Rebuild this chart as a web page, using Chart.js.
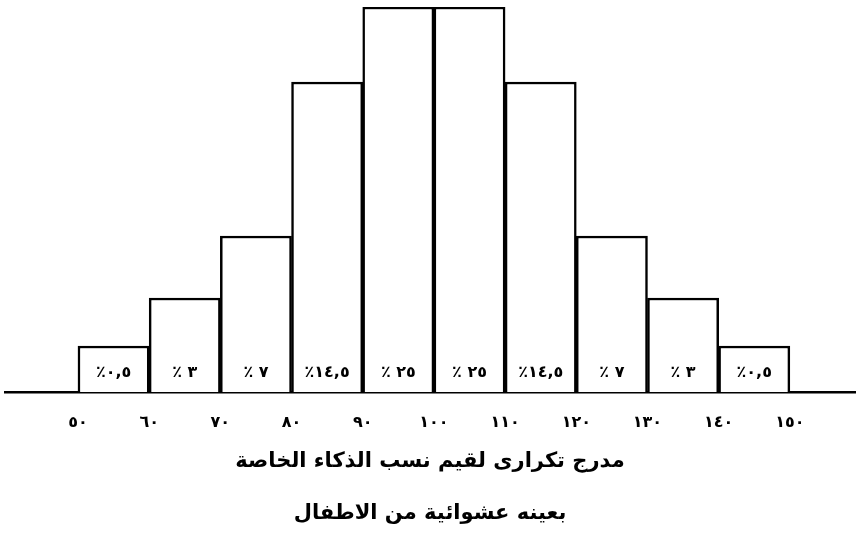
<!DOCTYPE html>
<html>
<head>
<meta charset="utf-8">
<script src="https://cdn.jsdelivr.net/npm/chart.js@4/dist/chart.umd.min.js"></script>
<style>
  html, body { margin: 0; padding: 0; background: #ffffff; }
  #wrap { width: 868px; height: 543px; position: relative; }
</style>
</head>
<body>
<div id="wrap"><canvas id="c" width="868" height="543"></canvas></div>
<script>
// IQ class intervals (lower edges), bar heights as drawn, and percentage labels
const binStarts = [50, 60, 70, 80, 90, 100, 110, 120, 130, 140];
const binWidth = 10;
const barHeights = [46, 94, 156, 310, 385, 385, 310, 156, 94, 46];
const percentLabels = ['٪٠,٥', '٪ ٣', '٪ ٧', '٪١٤,٥', '٪ ٢٥', '٪ ٢٥', '٪١٤,٥', '٪ ٧', '٪ ٣', '٪٠,٥'];
const tickValues = [50, 60, 70, 80, 90, 100, 110, 120, 130, 140, 150];
const titleLines = ['مدرج تكرارى لقيم نسب الذكاء الخاصة', 'بعينه عشوائية من الاطفال'];

const arabicDigits = ['٠','١','٢','٣','٤','٥','٦','٧','٨','٩'];
function toArabic(n) { return String(n).split('').map(d => arabicDigits[+d] ?? d).join(''); }

const FONT = "'DejaVu Sans', sans-serif";

const labelPlugin = {
  id: 'pctLabels',
  afterDatasetsDraw(chart) {
    const ctx = chart.ctx;
    const meta = chart.getDatasetMeta(0);
    ctx.save();
    ctx.fillStyle = '#000';
    ctx.font = 'bold 16px ' + FONT;
    ctx.textAlign = 'center';
    ctx.textBaseline = 'middle';
    ctx.direction = 'ltr';
    meta.data.forEach((bar, i) => {
      ctx.fillText(percentLabels[i], bar.x, bar.base - 19);
    });
    ctx.restore();
  }
};

new Chart(document.getElementById('c'), {
  type: 'bar',
  data: {
    datasets: [{
      data: binStarts.map((s, i) => ({ x: s + binWidth / 2, y: barHeights[i] })),
      backgroundColor: '#ffffff',
      borderColor: '#000000',
      borderWidth: 2.5,
      borderSkipped: 'bottom',
      barPercentage: 1,
      categoryPercentage: 1
    }]
  },
  options: {
    responsive: false,
    animation: false,
    layout: { padding: { left: 5, right: 13, top: 7, bottom: 3 } },
    plugins: { legend: { display: false }, tooltip: { enabled: false } },
    scales: {
      x: {
        type: 'linear',
        offset: false,
        min: 39.75,
        max: 159.15,
        afterBuildTicks: (scale) => { scale.ticks = tickValues.map(v => ({ value: v })); },
        afterFit: (scale) => { scale.height = 148; },
        grid: { display: false, drawTicks: false, offset: false },
        border: { display: true, color: '#000', width: 2.5 },
        ticks: {
          color: '#000',
          font: { family: FONT, size: 16, weight: 'bold', lineHeight: 1 },
          padding: 23,
          maxRotation: 0,
          autoSkip: false,
          callback: (v) => toArabic(v)
        },
        title: {
          display: true,
          text: titleLines,
          color: '#000',
          font: { family: FONT, size: 21, weight: 'bold', lineHeight: 52 / 21 },
          padding: { top: 0, bottom: 0 }
        }
      },
      y: {
        display: false,
        min: 0,
        max: 385
      }
    }
  },
  plugins: [labelPlugin]
});
</script>
</body>
</html>
